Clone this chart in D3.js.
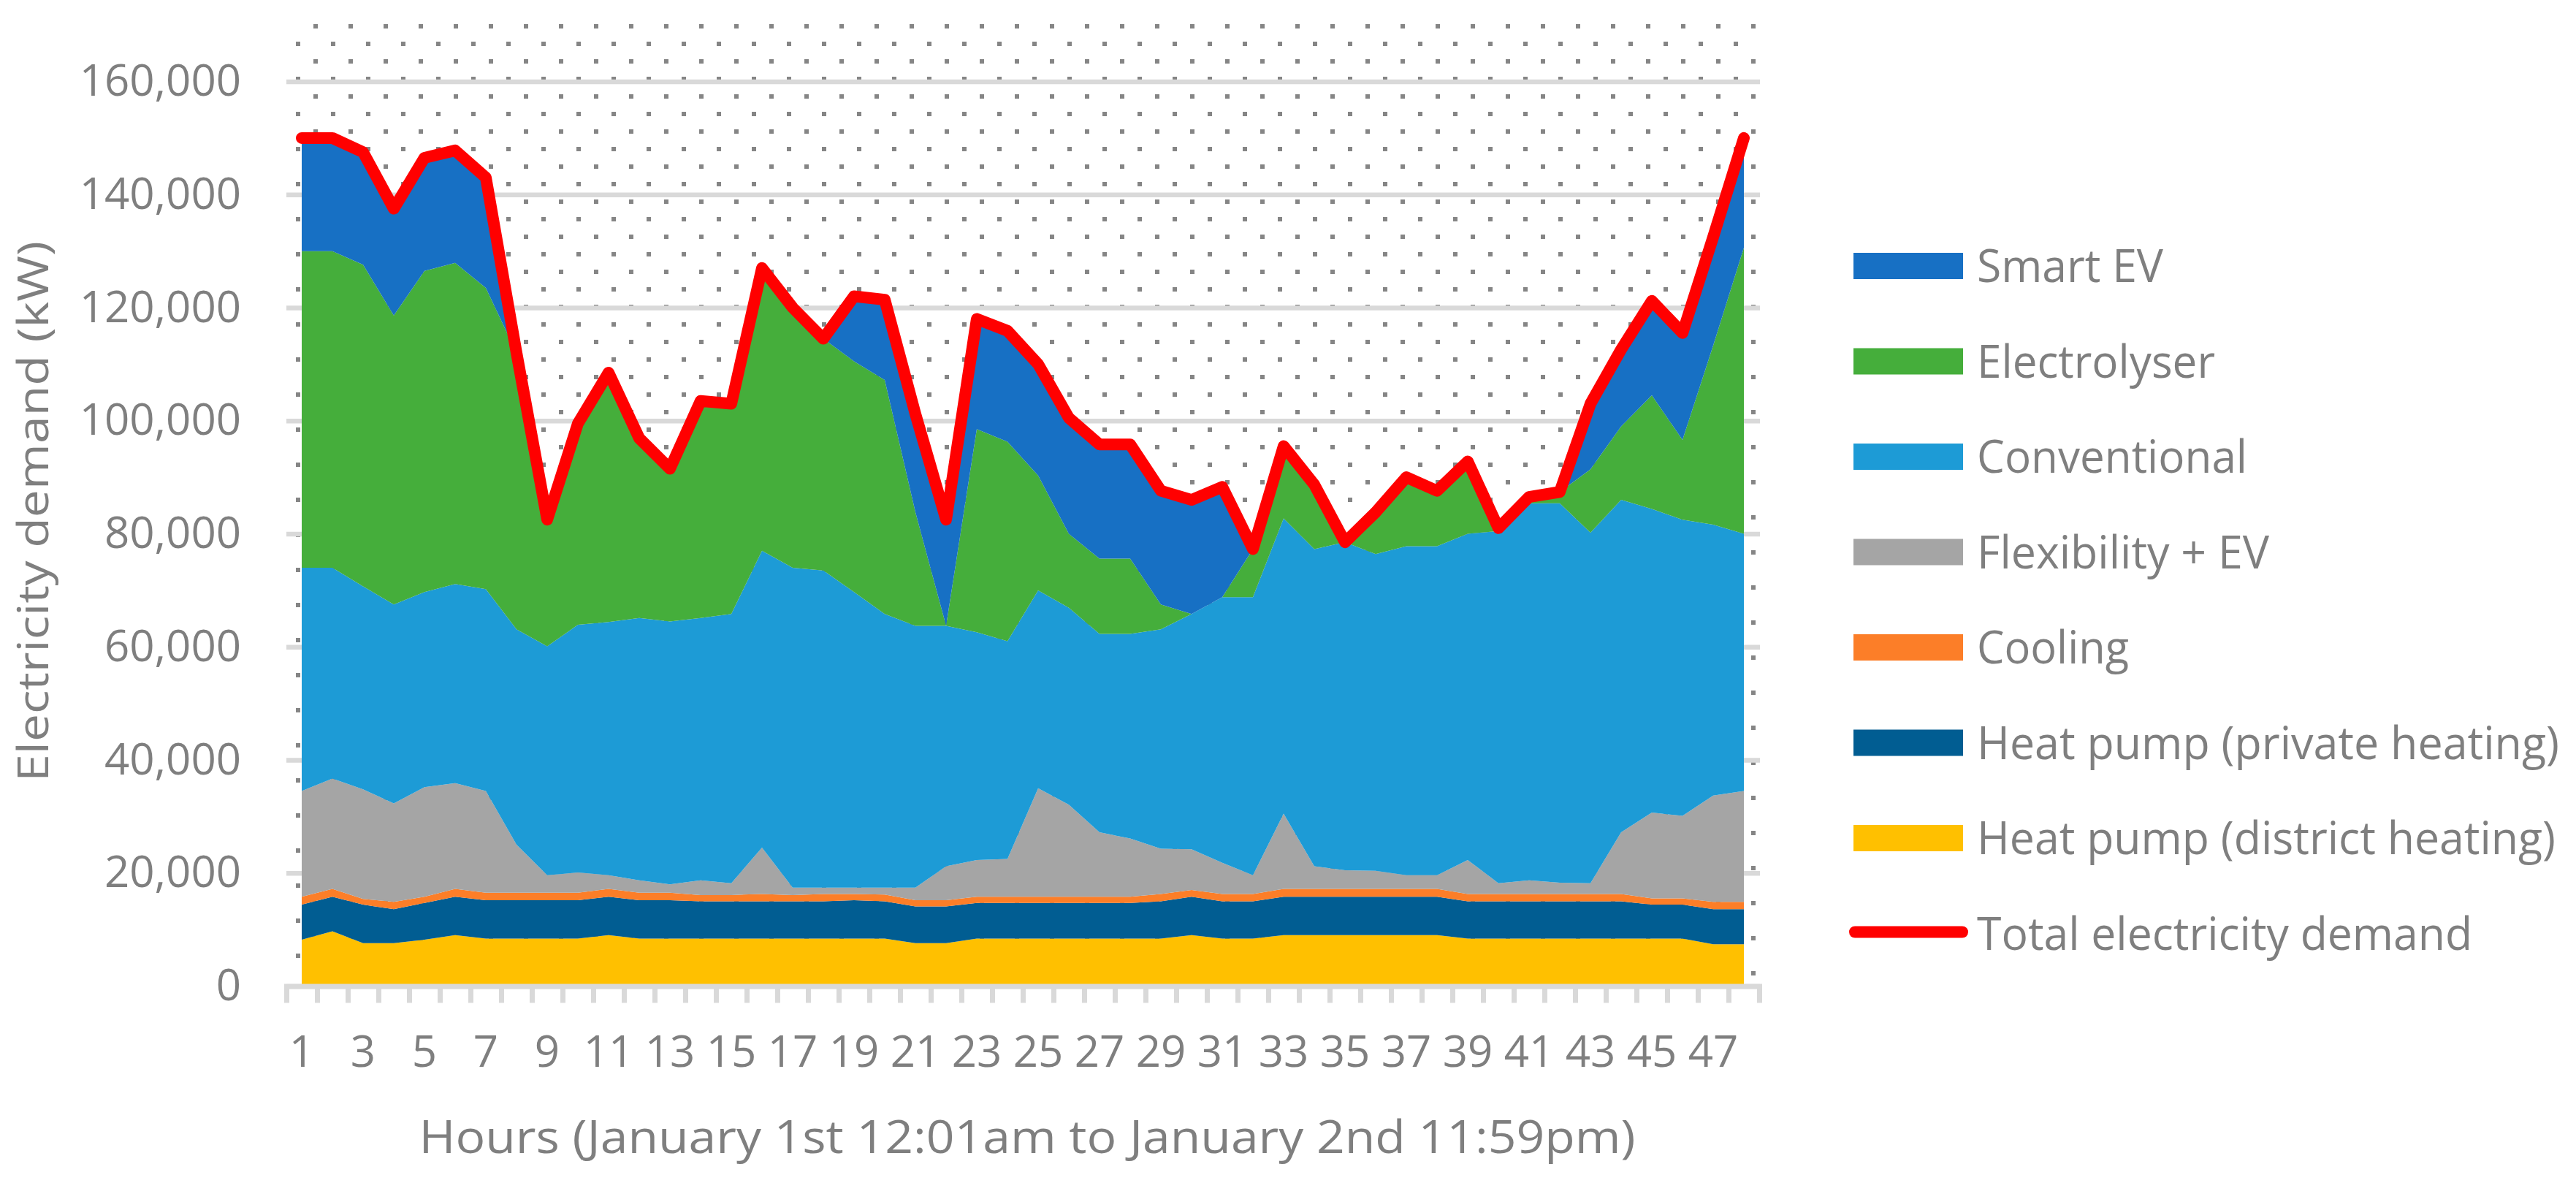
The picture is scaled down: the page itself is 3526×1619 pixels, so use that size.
<!DOCTYPE html>
<html>
<head>
<meta charset="utf-8">
<script src="https://cdn.jsdelivr.net/npm/d3@7"></script>
<style>
html, body { margin: 0; padding: 0; background: #ffffff; }
svg { display: block; }
</style>
</head>
<body>
<svg id="chart" width="3526" height="1619"></svg>
<script>
// ---------------- DATA ----------------
const hours = [1,2,3,4,5,6,7,8,9,10,11,12,13,14,15,16,17,18,19,20,21,22,23,24,
               25,26,27,28,29,30,31,32,33,34,35,36,37,38,39,40,41,42,43,44,45,46,47,48];

const hpDistrict = [8200,9700,7600,7600,8200,9000,8400,8400,8400,8400,9000,8400,8400,8400,8400,8400,
                    8400,8400,8400,8400,7600,7600,8400,8400,8400,8400,8400,8400,8400,9000,8400,8400,
                    9000,9000,9000,9000,9000,9000,8400,8400,8400,8400,8400,8400,8400,8400,7400,7400];
const hpPrivate  = [6200,6100,6800,6000,6500,6800,6800,6800,6800,6800,6800,6800,6800,6600,6600,6600,
                    6600,6600,6800,6600,6500,6500,6300,6300,6300,6300,6300,6300,6600,6800,6600,6600,
                    6800,6800,6800,6800,6800,6800,6600,6600,6600,6600,6600,6600,6000,6000,6200,6200];
const cooling    = [1400,1400,1000,1300,1100,1400,1300,1300,1300,1300,1400,1300,1300,1100,1100,1300,
                    1100,1300,1100,1200,1100,1100,1100,1100,1100,1100,1100,1100,1300,1200,1300,1300,
                    1400,1400,1400,1400,1400,1400,1300,1300,1300,1300,1300,1300,1100,1100,1300,1300];
const flexEV     = [18700,19500,19400,17400,19400,18700,18000,8500,3100,3600,2400,2200,1500,2600,2100,8200,
                    1300,1100,1100,1200,2200,6000,6500,6700,19200,16300,11400,10300,8000,7200,5500,3300,
                    13300,4000,3300,3200,2400,2400,6000,1900,2400,2000,1900,10900,15200,14600,18800,19600];
const conventional = [39500,37300,35900,35200,34500,35200,35700,38100,40500,43800,44800,46400,46500,46400,47600,52500,
                      56600,56100,52300,48400,46300,42500,40300,38500,35000,34800,35100,36200,38800,41600,47000,49200,
                      52200,56100,58000,56000,58200,58200,57700,62300,66700,67100,62000,58800,53700,52400,47900,45500];
const electrolyser = [56000,56000,56900,51100,56800,56800,53300,48900,22400,35600,44100,31800,27000,38400,37200,50000,
                      46000,41000,40800,41400,20100,0,35900,35300,20300,13100,13300,13300,4400,0,0,8500,
                      12800,11400,0,7400,12200,9800,12800,500,1100,2000,11200,13000,20100,14100,31700,50600];
const smartEV    = [20000,20000,19900,18900,20000,19900,19500,0,0,0,0,0,0,0,0,0,
                    0,0,11500,14200,17400,18800,19500,19600,19700,20500,20200,20200,20100,20200,19500,0,
                    0,0,0,0,0,0,0,0,0,0,11600,13600,16700,18900,19200,19400];
const totalDemand = [150000,150000,147500,137500,146500,147800,143000,112000,82500,99500,108500,96900,91500,103500,103000,127000,
                     120000,114500,122000,121400,101200,82500,118000,115900,110000,100500,95800,95800,87600,86000,88300,77300,
                     95500,88700,78500,83800,90000,87600,92800,81000,86500,87400,103000,112600,121200,115500,132500,150000];

const seriesKeys   = ["hpDistrict","hpPrivate","cooling","flexEV","conventional","electrolyser","smartEV"];
const seriesNames  = ["Heat pump (district heating)","Heat pump (private heating)","Cooling","Flexibility + EV",
                      "Conventional","Electrolyser","Smart EV"];
const seriesColors = ["#FFC000","#015D92","#FC7E28","#A5A5A5","#1D9BD6","#45AE3B","#1770C4"];
const totalName  = "Total electricity demand";
const totalColor = "#FF0000";

const yTickValues = [0,20000,40000,60000,80000,100000,120000,140000,160000];
const xTickLabels = [1,3,5,7,9,11,13,15,17,19,21,23,25,27,29,31,33,35,37,39,41,43,45,47];
const yTitle = "Electricity demand (kW)";
const xTitle = "Hours (January 1st 12:01am to January 2nd 11:59pm)";

// ---------------- LAYOUT ----------------
const FONT = "'Open Sans', 'Noto Sans', sans-serif";
const TEXT = "#7f7f7f";
const GRID = "#d9d9d9";
const plotLeft = 392, plotRight = 2408, plotTop = 24, zeroY = 1349.5, topY = 111.5;

const svg = d3.select("#chart");

const seriesData = {hpDistrict, hpPrivate, cooling, flexEV, conventional, electrolyser, smartEV};
const rows = hours.map((h, i) => {
  const r = {hour: h};
  seriesKeys.forEach(k => r[k] = seriesData[k][i]);
  return r;
});

const x = d3.scaleBand().domain(hours).range([plotLeft, plotRight]).paddingInner(0).paddingOuter(0);
const cx = h => x(h) + x.bandwidth() / 2;
const y = d3.scaleLinear().domain([0, 160000]).range([zeroY, topY]);

// dotted plot background
const defs = svg.append("defs");
const pat = defs.append("pattern")
  .attr("id", "dots").attr("patternUnits", "userSpaceOnUse")
  .attr("x", 405).attr("y", 57).attr("width", 48).attr("height", 48);
pat.append("rect").attr("x", 0).attr("y", 0).attr("width", 6).attr("height", 6).attr("fill", "#858585");
pat.append("rect").attr("x", 24).attr("y", 24).attr("width", 6).attr("height", 6).attr("fill", "#858585");

svg.append("rect")
  .attr("x", plotLeft).attr("y", plotTop)
  .attr("width", plotRight - plotLeft).attr("height", zeroY - plotTop)
  .attr("fill", "url(#dots)");

// y axis with gridlines
const yAxis = d3.axisLeft(y)
  .tickValues(yTickValues)
  .tickSize(-(plotRight - plotLeft + 1))
  .tickPadding(62)
  .tickFormat(d3.format(","));
const gy = svg.append("g").attr("transform", `translate(${plotLeft},0)`).call(yAxis);
gy.select(".domain").remove();
gy.selectAll(".tick line").attr("stroke", GRID).attr("stroke-width", 6.5);
gy.selectAll(".tick text")
  .attr("fill", TEXT).style("font-family", FONT).style("font-size", "60px");

// stacked areas
const stack = d3.stack().keys(seriesKeys);
const stacked = stack(rows);
const area = d3.area()
  .x(d => cx(d.data.hour))
  .y0(d => y(d[0]))
  .y1(d => y(d[1]))
  .curve(d3.curveLinear);

svg.append("g").selectAll("path")
  .data(stacked)
  .join("path")
  .attr("d", area)
  .attr("fill", (d, i) => seriesColors[i])
  .attr("stroke", "none");

// x axis: line + boundary ticks
const xb = d3.scaleLinear().domain([0, hours.length]).range([plotLeft, plotRight]);
const xAxisTicks = d3.axisBottom(xb)
  .tickValues(d3.range(0, hours.length + 1))
  .tickSize(23).tickSizeOuter(0).tickFormat("");
const gx = svg.append("g").attr("transform", `translate(0,${zeroY})`).call(xAxisTicks);
gx.select(".domain").attr("stroke", GRID).attr("stroke-width", 7).attr("stroke-linecap", "square");
gx.selectAll(".tick line").attr("stroke", GRID).attr("stroke-width", 7);

// x axis labels at category centres
const xAxisLabels = d3.axisBottom(x)
  .tickValues(xTickLabels)
  .tickSize(0).tickPadding(68);
const gxl = svg.append("g").attr("transform", `translate(0,${zeroY})`).call(xAxisLabels);
gxl.select(".domain").remove();
gxl.selectAll(".tick text")
  .attr("fill", TEXT).style("font-family", FONT).style("font-size", "60px");

// total demand line
const line = d3.line()
  .x((d, i) => cx(hours[i]))
  .y(d => y(d))
  .curve(d3.curveLinear);
svg.append("path")
  .datum(totalDemand)
  .attr("d", line)
  .attr("fill", "none")
  .attr("stroke", totalColor)
  .attr("stroke-width", 16)
  .attr("stroke-linejoin", "round")
  .attr("stroke-linecap", "round");

// axis titles
svg.append("text")
  .attr("transform", "translate(66,700) rotate(-90)")
  .attr("text-anchor", "middle")
  .attr("fill", TEXT).style("font-family", FONT).style("font-size", "58px")
  .attr("textLength", 740).attr("lengthAdjust", "spacingAndGlyphs")
  .text(yTitle);

svg.append("text")
  .attr("x", 1406).attr("y", 1578)
  .attr("text-anchor", "middle")
  .attr("fill", TEXT).style("font-family", FONT).style("font-size", "62px")
  .attr("textLength", 1665).attr("lengthAdjust", "spacingAndGlyphs")
  .text(xTitle);

// legend
const legendItems = [
  {name: seriesNames[6], color: seriesColors[6], w: 255},
  {name: seriesNames[5], color: seriesColors[5], w: 326},
  {name: seriesNames[4], color: seriesColors[4], w: 370},
  {name: seriesNames[3], color: seriesColors[3], w: 400},
  {name: seriesNames[2], color: seriesColors[2], w: 208},
  {name: seriesNames[1], color: seriesColors[1], w: 797},
  {name: seriesNames[0], color: seriesColors[0], w: 792},
  {name: totalName, color: totalColor, w: 678, line: true}
];
const lg = svg.append("g");
legendItems.forEach((it, i) => {
  const cy = 364 + i * 130.5;
  if (it.line) {
    lg.append("line")
      .attr("x1", 2539).attr("x2", 2686).attr("y1", cy - 2).attr("y2", cy - 2)
      .attr("stroke", it.color).attr("stroke-width", 16).attr("stroke-linecap", "round");
  } else {
    lg.append("rect")
      .attr("x", 2537).attr("y", cy - 18).attr("width", 150).attr("height", 36)
      .attr("fill", it.color);
  }
  lg.append("text")
    .attr("x", 2706).attr("y", cy + 22)
    .attr("fill", TEXT).style("font-family", FONT).style("font-size", "62px")
    .attr("textLength", it.w).attr("lengthAdjust", "spacingAndGlyphs")
    .text(it.name);
});
</script>
</body>
</html>
